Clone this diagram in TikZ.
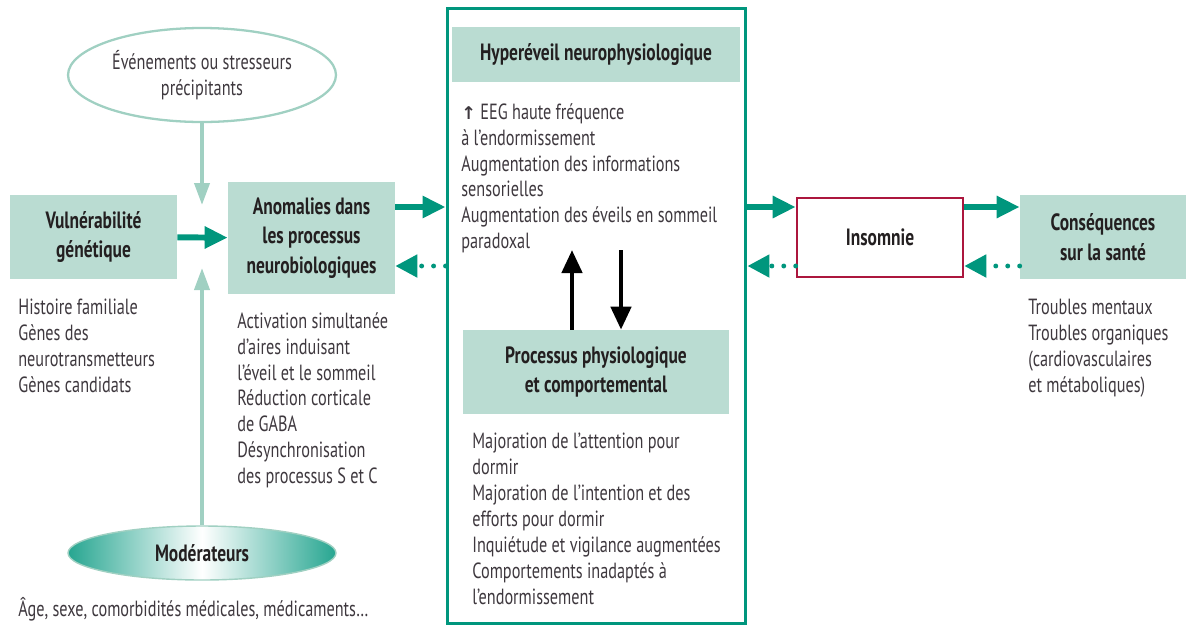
\documentclass[tikz,border=0pt]{standalone}
\usepackage{fontspec}
\setmainfont{PT Sans}[FakeStretch=0.74]
\newfontfamily\flechefont{DejaVu Sans}
\usepackage{tikz}
\usetikzlibrary{shapes.geometric,arrows.meta}
\definecolor{vert}{RGB}{0,150,125}
\definecolor{vertclair}{RGB}{160,208,194}
\definecolor{fond}{RGB}{186,220,210}
\definecolor{rouge}{RGB}{172,22,62}
\definecolor{texte}{RGB}{62,56,62}
\definecolor{titre}{RGB}{35,31,32}

\begin{document}
\begin{tikzpicture}[x=0.02cm, y=-0.02cm,
  every node/.style={text=texte, font=\fontsize{12.5}{14.75}\selectfont},
  titre/.style={fill=fond, align=center, inner sep=0, text=titre,
    font=\fontsize{13.4}{16.8}\selectfont\bfseries},
  liste/.style={align=left, anchor=north west, inner sep=0},
  fort/.style={color=vert, line width=3.4pt, -{Triangle[length=0.46cm, width=0.42cm]}},
  retour/.style={color=vert, line width=2.8pt, line cap=round, dash pattern=on 0pt off 6.8pt,
    -{Triangle[length=0.44cm, width=0.44cm]}},
  leger/.style={color=vertclair, line width=2.2pt, -{Triangle[length=0.44cm, width=0.3cm]}},
  noir/.style={color=black, line width=2.6pt, -{Triangle[length=0.46cm, width=0.4cm]}}]
  \useasboundingbox (0,0) rectangle (1186,626);

  \node (cadre) [draw=vert, line width=1.7pt, minimum width=5.98cm, minimum height=12.32cm] at (596.5,316) {};
  \node (hyper) [titre, minimum width=5.76cm, minimum height=1.1cm] at (596,54.5) {Hyperéveil neurophysiologique};
  \node (proc) [titre, minimum width=5.32cm, minimum height=1.68cm] at (596,372) {Processus physiologique\\et comportemental};
  \node (vuln) [titre, minimum width=3.34cm, minimum height=1.68cm] at (93.5,237) {Vulnérabilité\\génétique};
  \node (anom) [titre, minimum width=3.34cm, minimum height=2.24cm] at (311.5,238) {Anomalies dans\\les processus\\neurobiologiques};
  \node (insom) [draw=rouge, line width=1.5pt, fill=white, inner sep=0, text=titre, font=\fontsize{13.4}{16.8}\selectfont\bfseries,
    minimum width=3.32cm, minimum height=1.58cm] at (880,237.5) {Insomnie};
  \node (cons) [titre, minimum width=3.32cm, minimum height=1.68cm] at (1103,237) {Conséquences\\sur la santé};
  \node (even) [ellipse, draw=vertclair, line width=1.3pt, inner sep=0, align=center,
    minimum width=5.36cm, minimum height=1.88cm] at (202,75) {Événements ou stresseurs\\précipitants};
  \node (mod) [ellipse, draw=vertclair, line width=0.8pt, inner sep=0, left color=vert!85, right color=vert!85, middle color=white,
    text=titre, font=\fontsize{13.4}{16.8}\selectfont\bfseries, minimum width=5.36cm, minimum height=1.08cm] at (202,553) {Modérateurs};

  \node (lhyper) [liste] at (461,103) {{\flechefont\bfseries\fontsize{10}{12}\selectfont ↑} EEG haute fréquence\\à l’endormissement\\Augmentation des informations\\sensorielles\\Augmentation des éveils en sommeil\\paradoxal};
  \node (lproc) [liste] at (472,433) {Majoration de l’attention pour\\dormir\\Majoration de l’intention et des\\efforts pour dormir\\Inquiétude et vigilance augmentées\\Comportements inadaptés à\\l’endormissement};
  \node (lvuln) [liste] at (18,299) {Histoire familiale\\Gènes des\\neurotransmetteurs\\Gènes candidats};
  \node (lanom) [liste] at (237,312) {Activation simultanée\\d’aires induisant\\l’éveil et le sommeil\\Réduction corticale\\de GABA\\Désynchronisation\\des processus S et C};
  \node (lcons) [liste] at (1028,299) {Troubles mentaux\\Troubles organiques\\(cardiovasculaires\\et métaboliques)};
  \node (lmod) [liste] at (18,597) {Âge, sexe, comorbidités médicales, médicaments…};

  \coordinate (haut) at (0,207);
  \coordinate (bas) at (0,266);
  \coordinate (trou1) at (202,205);
  \coordinate (trou2) at (202,268);
  \coordinate (monte) at (572,250);
  \coordinate (desc) at (621,250);

  \path[fort]
  (vuln) edge (anom)
  (anom.east |- haut) edge (cadre.west |- haut)
  (cadre.east |- haut) edge (insom.west |- haut)
  (insom.east |- haut) edge (cons.west |- haut)
  ;
  \path[retour]
  (cadre.west |- bas) edge (anom.east |- bas)
  (insom.west |- bas) edge (cadre.east |- bas)
  (cons.west |- bas) edge (insom.east |- bas)
  ;
  \path[leger]
  (even) edge (trou1)
  (mod) edge (trou2)
  ;
  \path[noir]
  (monte |- proc.north) edge (monte)
  (desc) edge (desc |- proc.north)
  ;
\end{tikzpicture}
\end{document}
